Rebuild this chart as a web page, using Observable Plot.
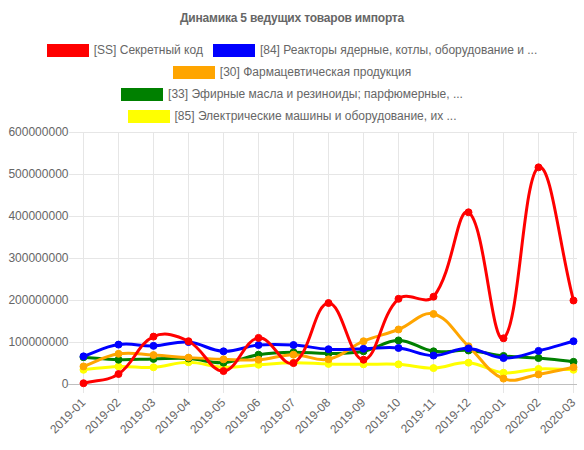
<!DOCTYPE html>
<html>
<head>
<meta charset="utf-8">
<script src="https://cdn.jsdelivr.net/npm/d3@7"></script>
<script src="https://cdn.jsdelivr.net/npm/@observablehq/plot@0.6"></script>
<style>
  html, body { margin: 0; padding: 0; background: #fff; }
  body { width: 584px; font-family: "Liberation Sans", Arial, Helvetica, sans-serif; color: #666; }
  #title { width: 584px; height: 38px; line-height: 36px; text-align: center; font-weight: bold; font-size: 12px; color: #666; letter-spacing: -0.2px; }
  #legend { width: 584px; padding-top: 1px; }
  .row { height: 22px; display: flex; justify-content: center; align-items: center; }
  .item { display: flex; align-items: center; margin: 0 5px; font-size: 12px; color: #666; white-space: nowrap; }
  .sw { width: 42px; height: 13px; margin-right: 5px; }
</style>
</head>
<body>
<div id="title">Динамика 5 ведущих товаров импорта</div>
<div id="legend"></div>
<div id="chart"></div>
<script>
const months = ["2019-01","2019-02","2019-03","2019-04","2019-05","2019-06","2019-07","2019-08","2019-09","2019-10","2019-11","2019-12","2020-01","2020-02","2020-03"];
const seriesNames = [
  "[SS] Секретный код",
  "[84] Реакторы ядерные, котлы, оборудование и ...",
  "[30] Фармацевтическая продукция",
  "[33] Эфирные масла и резиноиды; парфюмерные, ...",
  "[85] Электрические машины и оборудование, их ..."
];
const seriesColors = ["#ff0000", "#0000ff", "#ffa500", "#008000", "#ffff00"];
const legendRows = [[0, 1], [2], [3], [4]];
const yTicks = [0, 100000000, 200000000, 300000000, 400000000, 500000000, 600000000];

const valuesSS = [3e6, 25e6, 114e6, 103e6, 32e6, 111e6, 51e6, 194e6, 59e6, 204e6, 209e6, 410e6, 110e6, 517e6, 200e6];
const values84 = [67e6, 95e6, 92e6, 101e6, 79e6, 94e6, 94e6, 84e6, 85e6, 87e6, 69e6, 86e6, 63e6, 80e6, 103e6];
const values30 = [43e6, 73e6, 70e6, 64e6, 60e6, 59e6, 71e6, 60e6, 103e6, 131e6, 168e6, 91e6, 14e6, 24e6, 41e6];
const values33 = [65e6, 59e6, 61e6, 62e6, 52e6, 71e6, 77e6, 74e6, 79e6, 105e6, 79e6, 81e6, 68e6, 63e6, 54e6];
const values85 = [35e6, 43e6, 41e6, 53e6, 41e6, 47e6, 52e6, 49e6, 48e6, 48e6, 39e6, 52e6, 28e6, 37e6, 35e6];
const seriesValues = [valuesSS, values84, values30, values33, values85];

// legend
const legend = document.getElementById("legend");
for (const row of legendRows) {
  const r = document.createElement("div");
  r.className = "row";
  for (const i of row) {
    const it = document.createElement("div");
    it.className = "item";
    const sw = document.createElement("div");
    sw.className = "sw";
    sw.style.background = seriesColors[i];
    const t = document.createElement("span");
    t.textContent = seriesNames[i];
    it.appendChild(sw); it.appendChild(t);
    r.appendChild(it);
  }
  legend.appendChild(r);
}

const W = 584, H = 323, mT = 5, mR = 7, mB = 66, mL = 79;

// Chart.js-style bezier spline (tension 0.4), control points capped to chart area
function chartjsCurve(context) {
  let pts;
  const top = mT, bottom = H - mB;
  const cap = y => Math.max(top, Math.min(bottom, y));
  return {
    areaStart() {}, areaEnd() {},
    lineStart() { pts = []; },
    point(x, y) { pts.push([+x, +y]); },
    lineEnd() {
      const n = pts.length;
      if (!n) return;
      context.moveTo(pts[0][0], pts[0][1]);
      const cps = pts.map((p, i) => {
        const prev = pts[Math.max(0, i - 1)], next = pts[Math.min(n - 1, i + 1)];
        const d01 = Math.hypot(p[0] - prev[0], p[1] - prev[1]);
        const d12 = Math.hypot(next[0] - p[0], next[1] - p[1]);
        let s01 = d01 / (d01 + d12), s12 = d12 / (d01 + d12);
        if (isNaN(s01)) s01 = 0; if (isNaN(s12)) s12 = 0;
        const fa = 0.4 * s01, fb = 0.4 * s12;
        return {
          p: [p[0] - fa * (next[0] - prev[0]), cap(p[1] - fa * (next[1] - prev[1]))],
          n: [p[0] + fb * (next[0] - prev[0]), cap(p[1] + fb * (next[1] - prev[1]))]
        };
      });
      for (let i = 1; i < n; i++) {
        context.bezierCurveTo(cps[i - 1].n[0], cps[i - 1].n[1], cps[i].p[0], cps[i].p[1], pts[i][0], pts[i][1]);
      }
    }
  };
}

const seriesMarks = [];
for (let s = seriesNames.length - 1; s >= 0; s--) {
  const data = months.map((m, i) => ({month: m, value: seriesValues[s][i]}));
  seriesMarks.push(Plot.line(data, {x: "month", y: "value", stroke: seriesColors[s], strokeWidth: 3, curve: chartjsCurve}));
  seriesMarks.push(Plot.dot(data, {x: "month", y: "value", r: 3.5, fill: seriesColors[s], stroke: seriesColors[s], strokeWidth: 1}));
}

const chart = Plot.plot({
  width: W, height: H,
  marginTop: mT, marginRight: mR, marginBottom: mB, marginLeft: mL,
  style: {fontFamily: "'Liberation Sans', Arial, Helvetica, sans-serif", fontSize: "12px", color: "#666", background: "#fff", overflow: "visible"},
  x: {type: "point", domain: months, padding: 0},
  y: {domain: [0, 600000000]},
  marks: [
    Plot.gridY(yTicks, {stroke: "#e6e6e6", strokeOpacity: 1}),
    Plot.gridX(months, {stroke: "#e6e6e6", strokeOpacity: 1}),
    Plot.axisY(yTicks, {tickSize: 10, tickPadding: 1, tickFormat: d => String(d), stroke: "#e6e6e6", fill: "#666", label: null}),
    Plot.axisX(months, {tickSize: 9, tickPadding: 7, tickRotate: -45, stroke: "#e6e6e6", fill: "#666", label: null}),
    Plot.ruleY([0], {stroke: "#bfbfbf", insetLeft: -11}),
    ...seriesMarks
  ]
});
document.getElementById("chart").appendChild(chart);
</script>
</body>
</html>
